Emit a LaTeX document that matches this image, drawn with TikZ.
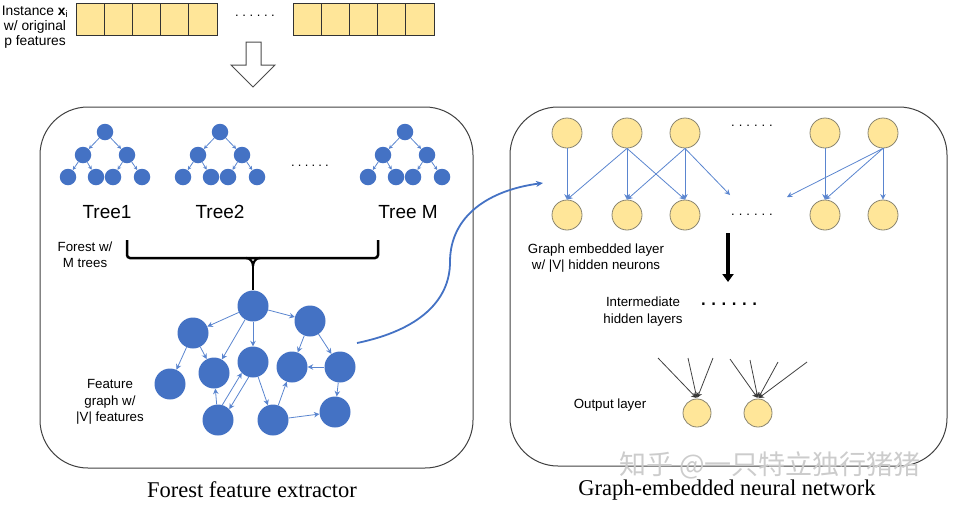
\documentclass[tikz,border=0pt]{standalone}
\usepackage{fontspec}
\setmainfont{Liberation Sans}
\newfontfamily\capfont{Liberation Serif}
\newfontfamily\cjk{Noto Sans CJK SC}
\usetikzlibrary{arrows.meta,calc}
\definecolor{nblue}{HTML}{4472C4}
\definecolor{eblue}{HTML}{5A85CF}
\definecolor{fyellow}{HTML}{FFE699}
\definecolor{ygray}{HTML}{8A8570}
\newcommand{\dotrow}[1]{.\kern#1.\kern#1.\kern#1.\kern#1.\kern#1.}
\newcommand{\ftree}[2]{%
  \node[tnode] (#1r) at (#2,132) {};
  \node[tnode] (#1a) at (#2-22,155) {};
  \node[tnode] (#1b) at (#2+22,155) {};
  \node[tnode] (#1c) at (#2-37,177) {};
  \node[tnode] (#1d) at (#2-9,177) {};
  \node[tnode] (#1e) at (#2+8,177) {};
  \node[tnode] (#1f) at (#2+37,177) {};
  \draw[tedge] (#1r) -- (#1a);
  \draw[tedge] (#1r) -- (#1b);
  \draw[tedge] (#1a) -- (#1c);
  \draw[tedge] (#1a) -- (#1d);
  \draw[tedge] (#1b) -- (#1e);
  \draw[tedge] (#1b) -- (#1f);
}
\begin{document}
\begin{tikzpicture}[x=1pt,y=-1pt,
  tnode/.style={circle,fill=nblue,inner sep=0,minimum size=16.5pt},
  gnode/.style={circle,fill=nblue,inner sep=0,minimum size=31pt},
  ynode/.style={circle,fill=fyellow,draw=ygray,line width=0.8pt,inner sep=0,minimum size=30pt},
  cell/.style={draw=black!80,fill=fyellow,line width=1pt,minimum width=28.2pt,minimum height=32pt,inner sep=0},
  tedge/.style={draw=eblue,line width=0.8pt,-{Stealth[length=4pt,width=4pt]}},
  gedge/.style={draw=eblue,line width=0.8pt,-{Stealth[length=5.5pt,width=5.5pt]}},
  oedge/.style={draw=black!75,line width=0.8pt,-{Stealth[length=5pt,width=6pt,fill=black]},shorten >=1pt},
  lbl/.style={font=\fontsize{13.3}{16}\selectfont,align=center,inner sep=0},
  dots/.style={font=\fontsize{13}{14}\selectfont,inner sep=0},
  panel/.style={draw=black!75,line width=1pt,rounded corners=48pt},
]
\useasboundingbox (0,0) rectangle (955,507);

% input instance
\foreach \i in {0,...,4}{
  \node[cell] (ca\i) at (90.1+28.2*\i,19) {};
  \node[cell] (cb\i) at (307.1+28.2*\i,19) {};
}
\node[dots] (indots) at (255,16) {\dotrow{3.6pt}};
\node[lbl,font=\fontsize{13.8}{15}\selectfont] (inst) at (35,27) {Instance \textbf{x}\textsubscript{i}\\w/ original\\p features};
\draw[black!70,line width=1pt,fill=white] (246,42) -- (261,42) -- (261,65) -- (275,65) -- (253,87) -- (231,65) -- (246,65) -- cycle;

% panels
\draw[panel] (40,107) rectangle (473,468);
\draw[panel] (510,107) rectangle (947,466);

% trees
\ftree{ta}{105}
\ftree{tb}{220}
\ftree{tm}{405}
\node[dots] (tdots) at (310,166) {\dotrow{3.2pt}};
\node[font=\fontsize{19}{22}\selectfont] (t1lab) at (107,212) {Tree1};
\node[font=\fontsize{19}{22}\selectfont] (t2lab) at (220,212) {Tree2};
\node[font=\fontsize{19}{22}\selectfont] (tmlab) at (408,212) {Tree M};
\node[lbl] (forlab) at (85,255) {Forest w/\\M trees};

% feature graph
\node[gnode] (A) at (253,306) {};
\node[gnode] (B) at (193,333) {};
\node[gnode] (C) at (310,321) {};
\node[gnode] (D) at (170,384) {};
\node[gnode] (E) at (214,373) {};
\node[gnode] (F) at (253,362) {};
\node[gnode] (G) at (292,367) {};
\node[gnode] (H) at (340,367) {};
\node[gnode] (I) at (218,420) {};
\node[gnode] (J) at (273,420) {};
\node[gnode] (K) at (335,412) {};
\draw[gedge] (A) -- (B);
\draw[gedge] (A) -- (C);
\draw[gedge] (A) -- (E);
\draw[gedge] (A) -- (F);
\draw[gedge] (B) -- (D);
\draw[gedge] (B) -- (E);
\draw[gedge] (C) -- (G);
\draw[gedge] (C) -- (H);
\draw[gedge] (H) -- (G);
\draw[gedge] (H) -- (K);
\draw[gedge] (I) -- (E);
\draw[gedge] (I.74) -- (F.224);
\draw[gedge] (F.254) -- (I.44);
\draw[gedge] (F) -- (J);
\draw[gedge] (J) -- (G);
\draw[gedge] (J) -- (K);
\node[lbl,font=\fontsize{13.3}{16.5}\selectfont] (flab) at (110,402) {Feature\\graph w/\\|V| features};

% bracket
\draw[line width=2.5pt,rounded corners=3pt] (127,240) -- (127,258) -- (378,258) -- (378,240);
\coordinate (bj) at (253,266);
\draw[line width=2.2pt] (246,258) to[out=0,in=90] (bj);
\draw[line width=2.2pt] (260,258) to[out=180,in=90] (bj);
\draw[line width=2.5pt] (bj) -- (A.north);

% curved connector
\coordinate (cs) at (357,343);
\coordinate (ce) at (543,183);
\draw[nblue,line width=1.8pt,-{Stealth[length=7pt,width=6pt]}] (cs) .. controls (420,330) and (450,300) .. (450,262) .. controls (450,215) and (490,190) .. (ce);

% graph embedded layer
\foreach \n/\x in {1/567,2/627,3/685,4/825,5/883}{
  \node[ynode] (t\n) at (\x,133) {};
  \node[ynode] (b\n) at (\x,215) {};
}
\node[dots] (rdots1) at (752,126) {\dotrow{4pt}};
\node[dots] (rdots2) at (752,215) {\dotrow{4pt}};
\coordinate (fe1) at (730,195);
\coordinate (fe2) at (787,197);
\draw[gedge] (t1.south) -- (b1.north);
\draw[gedge] (t2.south) -- (b1.north);
\draw[gedge] (t2.south) -- (b2.north);
\draw[gedge] (t2.south) -- (b3.north);
\draw[gedge] (t3.south) -- (b2.north);
\draw[gedge] (t3.south) -- (b3.north);
\draw[gedge] (t3.south) -- (fe1);
\draw[gedge] (t4.south) -- (b4.north);
\draw[gedge] (t5.south) -- (b4.north);
\draw[gedge] (t5.south) -- (b5.north);
\draw[gedge] (t5.south) -- (fe2);
\node[lbl] (glab) at (596,258) {Graph embedded layer\\w/ |V| hidden neurons};

% down arrow
\coordinate (da1) at (728,233);
\coordinate (da2) at (728,282);
\draw[line width=4pt,-{Triangle[length=8pt,width=11pt]}] (da1) -- (da2);

% intermediate
\node[lbl,font=\fontsize{13.3}{17}\selectfont] (ilab) at (643,312) {Intermediate\\hidden layers};
\node[font=\fontsize{24}{26}\selectfont,inner sep=0] (idots) at (729,304) {\dotrow{3.6pt}};

% output layer
\node[ynode,minimum size=28pt] (o1) at (697,413) {};
\node[ynode,minimum size=28pt] (o2) at (758,413) {};
\foreach \p/\q in {1/658,2/688,3/713}{
  \coordinate (oa\p) at (\q,358);
  \draw[oedge] (oa\p) -- (o1.north);
}
\foreach \p/\q/\r in {1/730/359,2/750/360,3/778/362,4/807/362}{
  \coordinate (ob\p) at (\q,\r);
  \draw[oedge] (ob\p) -- (o2.north);
}
\node[lbl] (olab) at (610,405) {Output layer};

% captions
\node[font=\capfont\fontsize{22.5}{26}\selectfont,inner sep=0] (cap1) at (252,490) {Forest feature extractor};
\node[font=\capfont\fontsize{22.5}{26}\selectfont,inner sep=0] (cap2) at (727,490) {Graph-embedded neural network};
\node[text=gray!40,font=\cjk\fontsize{27}{30}\selectfont,inner sep=0] (wm) at (770,465) {知乎 @一只特立独行猪猪};
\end{tikzpicture}
\end{document}
